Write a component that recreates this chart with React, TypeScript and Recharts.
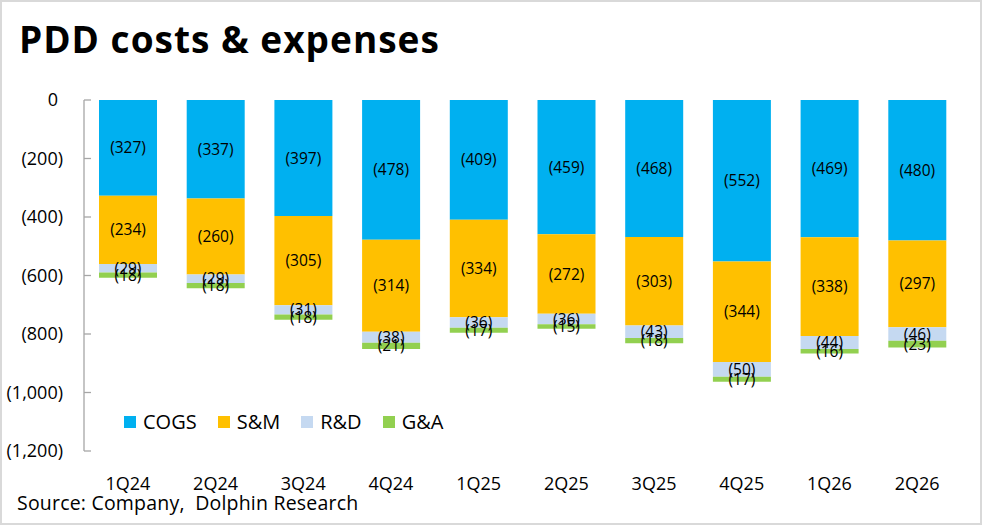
import React from 'react';
import { BarChart, Bar, XAxis, YAxis, Legend, LabelList } from 'recharts';

const quarters = ['1Q24', '2Q24', '3Q24', '4Q24', '1Q25', '2Q25', '3Q25', '4Q25', '1Q26', '2Q26'];
const cogs = [-327, -337, -397, -478, -409, -459, -468, -552, -469, -480];
const sm = [-234, -260, -305, -314, -334, -272, -303, -344, -338, -297];
const rd = [-29, -29, -31, -38, -36, -36, -43, -50, -44, -46];
const ga = [-18, -18, -18, -21, -17, -15, -18, -17, -16, -23];
const yTicks = [0, -200, -400, -600, -800, -1000, -1200];

const seriesNames = ['COGS', 'S&M', 'R&D', 'G&A'];
const colors = ['#00B0F0', '#FFC000', '#C5D9F1', '#92D050'];

const data = quarters.map((q, i) => ({ q, COGS: cogs[i], 'S&M': sm[i], 'R&D': rd[i], 'G&A': ga[i] }));

const W = 982;
const H = 525;
const LEFT = 84;
const RIGHT = 21;
const TOP = 100;
const BOTTOM = 74;
const BAND = (W - LEFT - RIGHT) / quarters.length;
const FONT = '"Open Sans", "Noto Sans", sans-serif';
const AXIS = '#A6A6A6';

const fmt = (v: number) => {
  const a = Math.abs(Number(v)).toLocaleString('en-US');
  return Number(v) < 0 ? `(${a})` : a;
};

const YTick = (props: any) => {
  const { y, payload } = props;
  const v = payload.value;
  return (
    <g>
      <line x1={LEFT} x2={LEFT + 7} y1={y} y2={y} stroke={AXIS} strokeWidth={1.3} />
      <text x={v < 0 ? 63 : 58} y={y} dy={6} textAnchor="end" fontSize={18} fill="#000" fontFamily={FONT}>
        {fmt(v)}
      </text>
    </g>
  );
};

const TopTick = (props: any) => {
  const { x, index } = props;
  const xs = [x - BAND / 2];
  if (index === quarters.length - 1) xs.push(x + BAND / 2);
  return (
    <g>
      {xs.map((xx, k) => (
        <line key={k} x1={xx} x2={xx} y1={TOP} y2={TOP + 7} stroke={AXIS} strokeWidth={1.3} />
      ))}
    </g>
  );
};

const LegendContent = () => (
  <div style={{ display: 'flex', alignItems: 'center', fontFamily: FONT, fontSize: 20, color: '#000' }}>
    {seriesNames.map((n, i) => (
      <div key={n} style={{ display: 'flex', alignItems: 'center', marginRight: 21 }}>
        <span style={{ display: 'inline-block', width: 12, height: 12, background: colors[i], marginRight: 7 }} />
        <span>{n}</span>
      </div>
    ))}
  </div>
);

export default function App() {
  return (
    <div style={{ position: 'absolute', left: 0, top: 0, width: W, height: H, background: '#fff', overflow: 'hidden' }}>
      <div
        style={{
          position: 'absolute',
          left: 19,
          top: 20,
          fontFamily: FONT,
          fontWeight: 700,
          fontSize: 37,
          letterSpacing: 1,
          lineHeight: 1,
          color: '#000',
          whiteSpace: 'nowrap',
        }}
      >
        PDD costs &amp; expenses
      </div>
      <div style={{ position: 'absolute', left: 0, top: 0 }}>
        <BarChart width={W} height={H} data={data} margin={{ top: TOP, right: RIGHT, left: 0, bottom: 0 }} barSize={58}>
          <XAxis
            xAxisId="top"
            dataKey="q"
            orientation="top"
            height={0}
            axisLine={{ stroke: AXIS, strokeWidth: 1.3 }}
            tickLine={false}
            tickSize={0}
            tickMargin={0}
            tick={<TopTick />}
            interval={0}
          />
          <XAxis
            xAxisId="bottom"
            dataKey="q"
            orientation="bottom"
            height={BOTTOM}
            axisLine={false}
            tickLine={false}
            tickSize={0}
            tickMargin={26}
            interval={0}
            tick={{ fontSize: 18, fill: '#000', fontFamily: FONT }}
          />
          <YAxis
            domain={[-1200, 0]}
            ticks={yTicks}
            width={LEFT}
            interval={0}
            axisLine={{ stroke: AXIS, strokeWidth: 1.3 }}
            tickLine={false}
            tick={<YTick />}
          />
          <Legend
            verticalAlign="middle"
            align="center"
            layout="horizontal"
            content={<LegendContent />}
            wrapperStyle={{ left: 124, top: 408, width: 'auto' }}
          />
          {seriesNames.map((n, i) => (
            <Bar key={n} dataKey={n} stackId="a" xAxisId="bottom" fill={colors[i]} isAnimationActive={false}>
              <LabelList
                dataKey={n}
                position="center"
                formatter={(v: any) => fmt(v)}
                fill="#000"
                fontSize={15.5}
                fontFamily={FONT}
              />
            </Bar>
          ))}
        </BarChart>
      </div>
      <div
        style={{
          position: 'absolute',
          left: 17,
          top: 493,
          fontFamily: FONT,
          fontSize: 19.5,
          letterSpacing: 0.2,
          lineHeight: 1,
          color: '#000',
          whiteSpace: 'pre',
        }}
      >
        {'Source: Company,  Dolphin Research'}
      </div>
      <div
        style={{
          position: 'absolute',
          left: 0,
          top: 0,
          width: W,
          height: H,
          boxSizing: 'border-box',
          border: '2px solid #D9D9D9',
          pointerEvents: 'none',
        }}
      />
    </div>
  );
}
